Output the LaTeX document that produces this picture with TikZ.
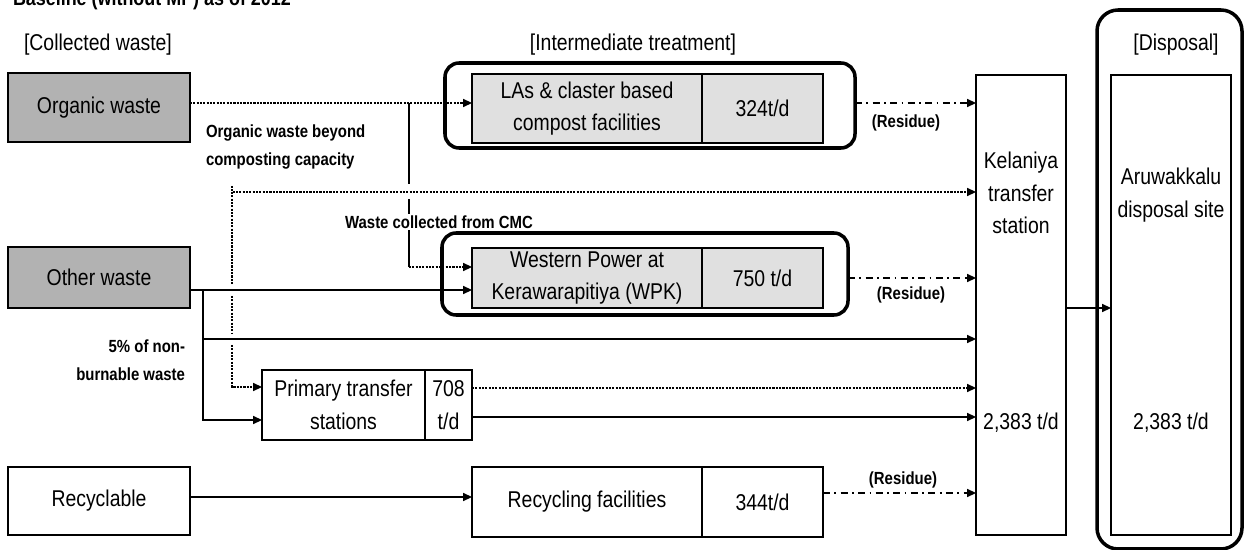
\documentclass[tikz,border=0pt]{standalone}
\usepackage{fontspec}
\setmainfont{Liberation Sans}[FakeStretch=0.85]
\usetikzlibrary{arrows.meta}
\begin{document}
\begin{tikzpicture}[x=0.02cm,y=-0.02cm,
  every node/.style={inner sep=0pt, outer sep=0pt},
  maintxt/.style={font=\fontsize{13}{18.5}\selectfont, align=center},
  smalltxt/.style={font=\bfseries\fontsize{10}{16}\selectfont},
  box/.style={draw, line width=0.9pt, maintxt},
  grp/.style={draw, line width=2pt, rounded corners=8pt},
  wh/.style 2 args={minimum width={#1*0.02cm}, minimum height={#2*0.02cm}},
  con/.style={line width=0.9pt},
  arr/.style={con, -{Triangle[length=5pt,width=4.5pt]}},
  dotline/.style={dash pattern=on 1.2pt off 0.7pt},
  resid/.style={dash pattern=on 4pt off 2.5pt on 1pt off 2.5pt},
]
\useasboundingbox (0,0) rectangle (1247,550);

% title (cut off at the top edge)
\node[anchor=base west, font=\bfseries\fontsize{12}{14}\selectfont] (title) at (13,6) {Baseline (without MP) as of 2012};

% headers
\node[maintxt] (hcol) at (98,45) {[Collected waste]};
\node[maintxt] (hint) at (633,45) {[Intermediate treatment]};
\node[maintxt] (hdis) at (1176,45) {[Disposal]};

% group outlines
\node[grp, wh={410}{85}] (compgrp) at (650,105.5) {};
\node[grp, wh={406}{82}] (wpkgrp) at (645,274) {};
\node[grp, rounded corners=12pt, wh={145}{539}] (disgrp) at (1169.5,279.5) {};

% collected waste boxes
\node[box, fill=black!30, wh={182}{69}] (org) at (99,107.5) {Organic waste};
\node[box, fill=black!30, wh={182}{61}] (oth) at (99,277.5) {Other waste};
\node[box, wh={182}{68}] (rec) at (99,501) {Recyclable};

% intermediate treatment
\node[box, fill=black!12, wh={230}{69}] (compA) at (587,108.5) {LAs \& claster based\\compost facilities};
\node[box, fill=black!12, wh={121}{69}] (compB) at (762.5,108.5) {324t/d};
\node[box, fill=black!12, wh={230}{60}] (wpkA) at (587,278) {Western Power at\\Kerawarapitiya (WPK)};
\node[box, fill=black!12, wh={121}{60}] (wpkB) at (762.5,278) {750 t/d};
\node[box, wh={163}{70}] (ptsA) at (343.5,405) {Primary transfer\\stations};
\node[box, wh={47}{70}] (ptsB) at (448.5,405) {708\\t/d};
\node[box, wh={230}{70}] (recA) at (587,502) {Recycling facilities};
\node[box, wh={121}{70}] (recB) at (762.5,502) {344t/d};

% transfer station and disposal
\node[box, wh={90}{460}] (kel) at (1021,305) {};
\node[maintxt] (keltxt) at (1021,193) {Kelaniya\\transfer\\station};
\node[maintxt] (kelq) at (1021,423) {2,383 t/d};
\node[box, wh={120}{460}] (aru) at (1171,305) {};
\node[maintxt] (arutxt) at (1171,195) {Aruwakkalu\\disposal site};
\node[maintxt] (aruq) at (1171,423) {2,383 t/d};

% small labels
\node[smalltxt, anchor=west, align=left] (lbeyond) at (206,147) {Organic waste beyond\\composting capacity};
\node[smalltxt, anchor=east, align=right] (lfive) at (185,360) {5\% of non-\\burnable waste};
\node[smalltxt] (lres1) at (906,123) {(Residue)};
\node[smalltxt] (lres2) at (911,295) {(Residue)};
\node[smalltxt] (lres3) at (903,480) {(Residue)};

% helper levels
\coordinate (yA) at (0,103);
\coordinate (yB) at (0,192);
\coordinate (yC) at (0,267);
\coordinate (yD) at (0,290);
\coordinate (yE) at (0,420);
\coordinate (yF) at (0,339);
\coordinate (yG) at (0,388);
\coordinate (yH) at (0,417);
\coordinate (yI) at (0,497);
\coordinate (yJ) at (0,278);
\coordinate (yK) at (0,493);
\coordinate (yL) at (0,308);
\coordinate (yPd) at (0,387);
\coordinate (jA) at (409,103);
\coordinate (jB) at (409,184);
\coordinate (jC) at (409,199);
\coordinate (jD) at (409,267);
\coordinate (dA) at (232,186);
\coordinate (dB) at (232,192);
\coordinate (dC) at (232,284);
\coordinate (dD) at (232,296);
\coordinate (dE) at (232,333);
\coordinate (dF) at (232,345);
\coordinate (oA) at (203,290);
\coordinate (oB) at (203,339);

% organic waste
\draw[arr, dotline] (org.east |- yA) -- (compA.west |- yA);
\draw[con] (jA) -- (jB);
\draw[arr, dotline] (dA) |- (kel.west |- yB);
\draw[con, dotline] (dB) -- (dC);
\draw[con, dotline] (dD) -- (dE);
\draw[arr, dotline] (dF) |- (ptsA.west |- yPd);

% waste collected from CMC
\draw[con] (jC) -- (jD);
\draw[arr, dotline] (jD) -- (wpkA.west |- yC);
\node[smalltxt, fill=white, inner sep=1pt] (lcmc) at (439,222) {Waste collected from CMC};

% other waste
\draw[arr] (oth.east |- yD) -- (wpkA.west |- yD);
\draw[arr] (oA) |- (ptsA.west |- yE);
\draw[arr] (oB) -- (kel.west |- yF);

% primary transfer stations
\draw[arr, dotline] (ptsB.east |- yG) -- (kel.west |- yG);
\draw[arr] (ptsB.east |- yH) -- (kel.west |- yH);

% recyclable
\draw[arr] (rec.east |- yI) -- (recA.west |- yI);

% residues
\draw[arr, resid] (compgrp.east |- yA) -- (kel.west |- yA);
\draw[arr, resid] (wpkgrp.east |- yJ) -- (kel.west |- yJ);
\draw[arr, resid] (recB.east |- yK) -- (kel.west |- yK);

% to disposal
\draw[arr] (kel.east |- yL) -- (aru.west |- yL);
\end{tikzpicture}
\end{document}
